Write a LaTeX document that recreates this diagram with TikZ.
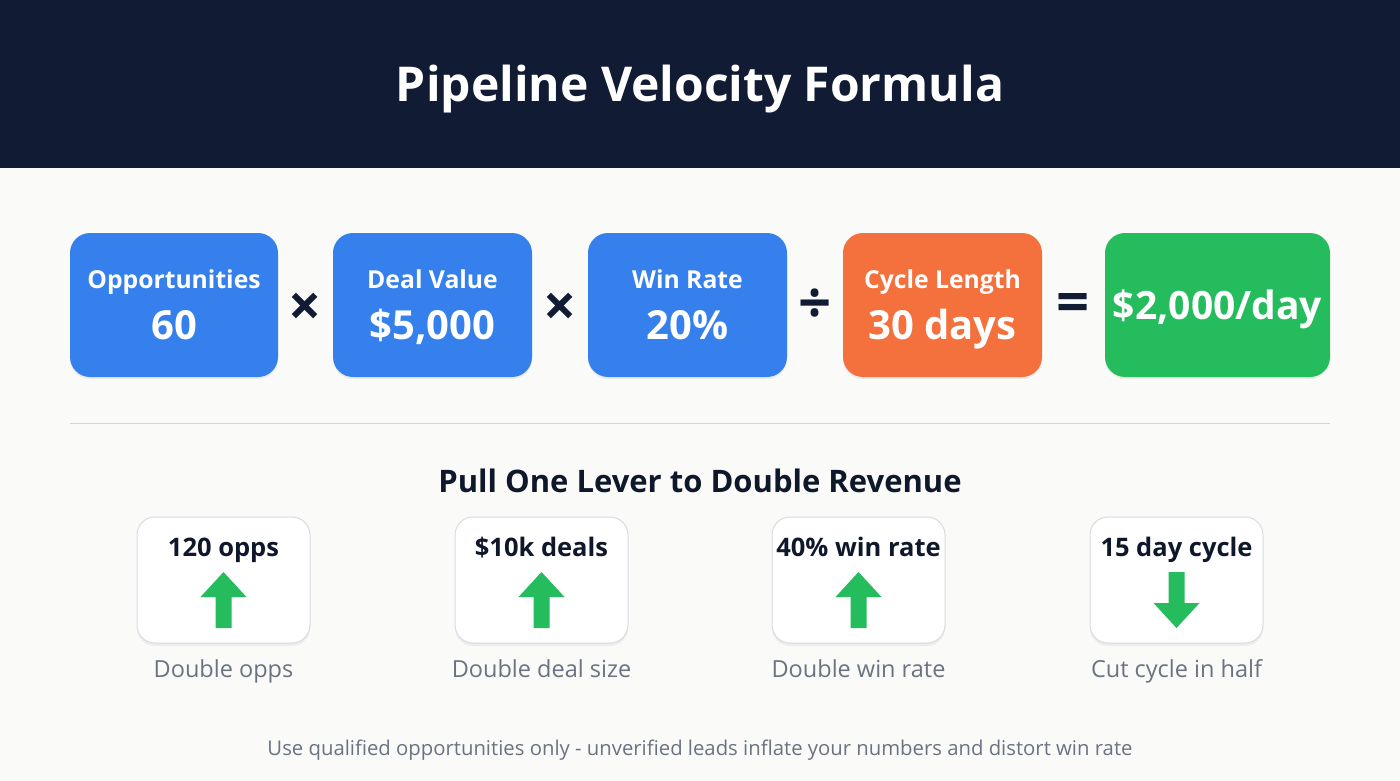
\documentclass[tikz,border=0pt]{standalone}
\usepackage{fontspec}
\setmainfont{Open Sans}
\usetikzlibrary{shadows}
\definecolor{navy}{HTML}{111B33}
\definecolor{bgc}{HTML}{FAFAF9}
\definecolor{bluec}{HTML}{3580EC}
\definecolor{orangec}{HTML}{F4703C}
\definecolor{greenc}{HTML}{25BC5E}
\definecolor{darktext}{HTML}{0F172A}
\definecolor{graytext}{HTML}{6B7280}
\definecolor{sepc}{HTML}{D4D6DA}
\definecolor{cardborder}{HTML}{D9DBE0}
\tikzset{
  formbox/.style={rounded corners=20pt, minimum height=144pt, inner sep=0pt, text=white, align=center, drop shadow={opacity=0.12, shadow xshift=0pt, shadow yshift=-2pt}},
  boxlabel/.style={text=white, anchor=base, inner sep=0pt, font=\fontsize{24.7}{24.7}\selectfont\bfseries},
  boxvalue/.style={text=white, anchor=base, inner sep=0pt, font=\fontsize{40}{40}\selectfont\bfseries},
  oplabel/.style={text=navy, font=\fontsize{58}{58}\selectfont\bfseries, inner sep=0pt},
  card/.style={draw=cardborder, line width=1pt, fill=white, rounded corners=18pt, minimum width=173pt, minimum height=126pt, inner sep=0pt, drop shadow={opacity=0.10, shadow xshift=0pt, shadow yshift=-3pt}},
  cardtitle/.style={text=darktext, anchor=base, font=\fontsize{25.5}{25.5}\selectfont\bfseries, inner sep=0pt},
  caption/.style={text=graytext, anchor=base, font=\fontsize{23.5}{23.5}\selectfont, inner sep=0pt},
  lever/.style={fill=greenc, draw=none}
}
\begin{document}
\begin{tikzpicture}[x=1pt,y=-1pt]
\useasboundingbox (0,0) rectangle (1400,781);
\fill[bgc] (0,0) rectangle (1400,781);
\fill[navy] (0,0) rectangle (1400,168);
\node[text=white, anchor=base, inner sep=0pt, font=\fontsize{48}{48}\selectfont\bfseries] (title) at (700,102) {Pipeline Velocity Formula};

% formula boxes
\node[formbox, fill=bluec, minimum width=208pt] (opp) at (174,305) {};
\node[formbox, fill=bluec, minimum width=199pt] (deal) at (432.5,305) {};
\node[formbox, fill=bluec, minimum width=199pt] (win) at (687.5,305) {};
\node[formbox, fill=orangec, minimum width=199pt] (cyc) at (942.5,305) {};
\node[formbox, fill=greenc, minimum width=225pt] (res) at (1217.5,305) {};

\node[boxlabel] (oppl) at (174,288) {Opportunities};
\node[boxvalue] (oppv) at (174,339) {60};
\node[boxlabel] (deall) at (432.5,288) {Deal Value};
\node[boxvalue] (dealv) at (432.5,339) {\$5,000};
\node[boxlabel] (winl) at (687.5,288) {Win Rate};
\node[boxvalue] (winv) at (687.5,339) {20\%};
\node[boxlabel] (cycl) at (942.5,288) {Cycle Length};
\node[boxvalue] (cycv) at (942.5,339) {30 days};
\node[boxvalue, font=\fontsize{39}{39}\selectfont\bfseries] (resv) at (1217.5,319) {\$2,000/day};

\node[oplabel] (op1) at (305,310) {×};
\node[oplabel] (op2) at (560,310) {×};
\node[oplabel] (op3) at (815,306) {÷};
\node[oplabel] (op4) at (1073,308) {=};

% separator
\coordinate (sepl) at (70,423);
\coordinate (sepr) at (1330,423);
\draw[sepc, line width=1pt] (sepl) -- (sepr);

\node[text=darktext, anchor=base, inner sep=0pt, font=\fontsize{31}{31}\selectfont\bfseries] (sub) at (700,492) {Pull One Lever to Double Revenue};

% cards
\node[card] (c1) at (223.5,580) {};
\node[card] (c2) at (541.5,580) {};
\node[card] (c3) at (858.5,580) {};
\node[card] (c4) at (1176.5,580) {};

\node[cardtitle] (t1) at (223.5,556) {120 opps};
\node[cardtitle] (t2) at (541.5,556) {\$10k deals};
\node[cardtitle] (t3) at (858.5,556) {40\% win rate};
\node[cardtitle] (t4) at (1176.5,556) {15 day cycle};

% arrows
\foreach \cx in {223.5,541.5,858.5}{
  \fill[lever] (\cx-8,628) -- (\cx-8,597) -- (\cx-23,597) -- (\cx,572) -- (\cx+23,597) -- (\cx+8,597) -- (\cx+8,628) -- cycle;
}
\fill[lever] (1176.5-8,572) -- (1176.5-8,603) -- (1176.5-23,603) -- (1176.5,628) -- (1176.5+23,603) -- (1176.5+8,603) -- (1176.5+8,572) -- cycle;

\node[caption] (d1) at (223.5,677) {Double opps};
\node[caption] (d2) at (541.5,677) {Double deal size};
\node[caption] (d3) at (858.5,677) {Double win rate};
\node[caption] (d4) at (1176.5,677) {Cut cycle in half};

\node[text=graytext, anchor=base, font=\fontsize{20.3}{20.3}\selectfont, inner sep=0pt] (foot) at (700,755) {Use qualified opportunities only - unverified leads inflate your numbers and distort win rate};
\end{tikzpicture}
\end{document}
